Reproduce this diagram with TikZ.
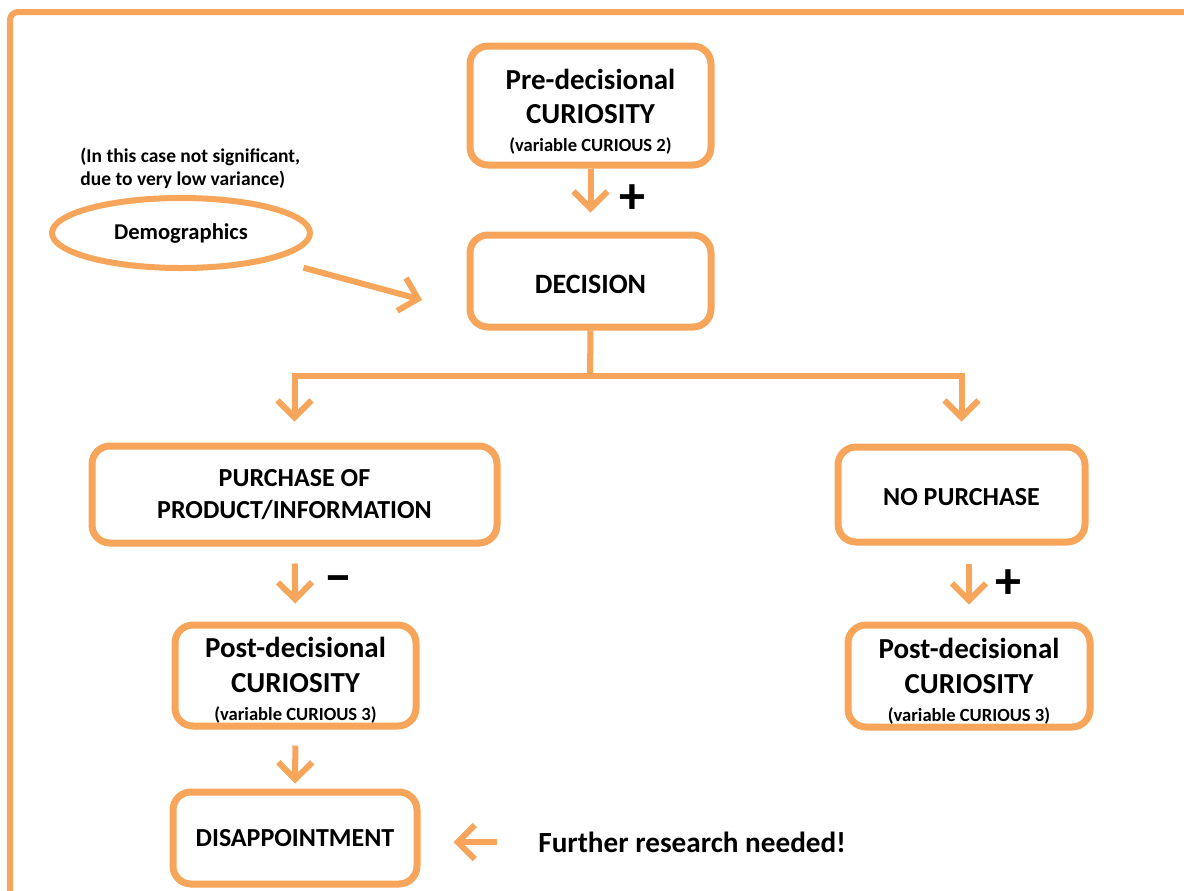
\documentclass[tikz,border=0pt]{standalone}
\usepackage{fontspec}
\setmainfont{Carlito}
\usetikzlibrary{arrows.meta,shapes.geometric}
\definecolor{orng}{RGB}{246,165,90}
\newcommand{\varline}[1]{\fontsize{9.3}{11}\selectfont (variable CURIOUS #1)}
\tikzset{
  box/.style={draw=orng,line width=3.5pt,rounded corners=9pt,align=center,font=\bfseries\fontsize{13}{16}\selectfont,inner sep=0pt},
  curbox/.style={box,font=\bfseries\fontsize{14.5}{17}\selectfont},
  arr/.style={draw=orng,line width=3pt,-{Straight Barb[length=8.5pt,width=17pt]}},
  lne/.style={draw=orng,line width=3pt},
  sign/.style={font=\bfseries\fontsize{26}{26}\selectfont,inner sep=0pt}
}

\begin{document}
\begin{tikzpicture}[x=0.5pt,y=-0.5pt]
    \useasboundingbox (0,0) rectangle (1184,890);
    \draw[orng,line width=3pt,rounded corners=4pt] (10,900) -- (10,12) -- (1200,12);
    \node[curbox,minimum width=120.5pt,minimum height=59.5pt] (pre) at (590.5,105.5) {\rule{0pt}{16pt}Pre-decisional\\ CURIOSITY\\[-3pt] \varline{2}};
    \node[box,minimum width=120.5pt,minimum height=46pt,font=\bfseries\fontsize{14}{16}\selectfont] (dec) at (590.5,281) {\rule{0pt}{12.5pt}DECISION};
    \node[box,minimum width=202.5pt,minimum height=48.5pt] (purch) at (294.5,494.5) {PURCHASE OF\\ PRODUCT/INFORMATION};
    \node[box,minimum width=123.5pt,minimum height=47.5pt] (nopur) at (961.5,494.5) {\rule{0pt}{11.5pt}NO PURCHASE};
    \node[curbox,minimum width=120.5pt,minimum height=50.5pt] (postl) at (295.5,675.5) {\rule{0pt}{15pt}Post-decisional\\[0.5pt] CURIOSITY\\[-3pt] \varline{3}};
    \node[curbox,minimum width=121pt,minimum height=51pt] (postr) at (969,676) {\rule{0pt}{15pt}Post-decisional\\[0.5pt] CURIOSITY\\[-3pt] \varline{3}};
    \node[box,minimum width=122pt,minimum height=46pt] (disap) at (295,838) {DISAPPOINTMENT};
    \node[draw=orng,line width=3pt,ellipse,inner sep=0pt,minimum width=129pt,minimum height=35pt,font=\bfseries\fontsize{11.3}{13}\selectfont] (demo) at (181,233) {Demographics};
    \node[anchor=west,align=left,inner sep=0pt,font=\bfseries\fontsize{9.75}{11.5}\selectfont] (note) at (80,168) {(In this case not significant,\\ due to very low variance)};
    \node[anchor=west,inner sep=0pt,font=\bfseries\fontsize{14.6}{16}\selectfont] (further) at (538,842) {Further research needed!};
    \node[sign] (plusa) at (632,199) {+};
    \node[sign] (minus) at (338,585) {\textminus};
    \node[sign] (plusb) at (1008,584) {+};
    \coordinate (split) at (590,376);
    \draw[arr,shorten >=9.5pt] (pre.south) -- (dec.north);
    \draw[arr,shorten <=15pt,shorten >=23pt] (demo.-16) -- ([yshift=-15.5pt]dec.west);
    \draw[lne] (dec.south) -- (split);
    \draw[arr,shorten >=10.5pt] (split) -| (purch.north);
    \draw[arr,shorten >=11pt] (split) -| (nopur.north);
    \draw[arr,shorten <=8.5pt,shorten >=9pt] (purch.south) -- (postl.north);
    \draw[arr,shorten <=9pt,shorten >=8.5pt] (postr.north |- nopur.south) -- (postr.north);
    \draw[arr,shorten <=8pt,shorten >=2.5pt] (postl.south) -- (disap.north);
    \draw[arr,shorten <=20.5pt,shorten >=16.5pt] (further.west) -- (further.west -| disap.east);
\end{tikzpicture}
\end{document}
